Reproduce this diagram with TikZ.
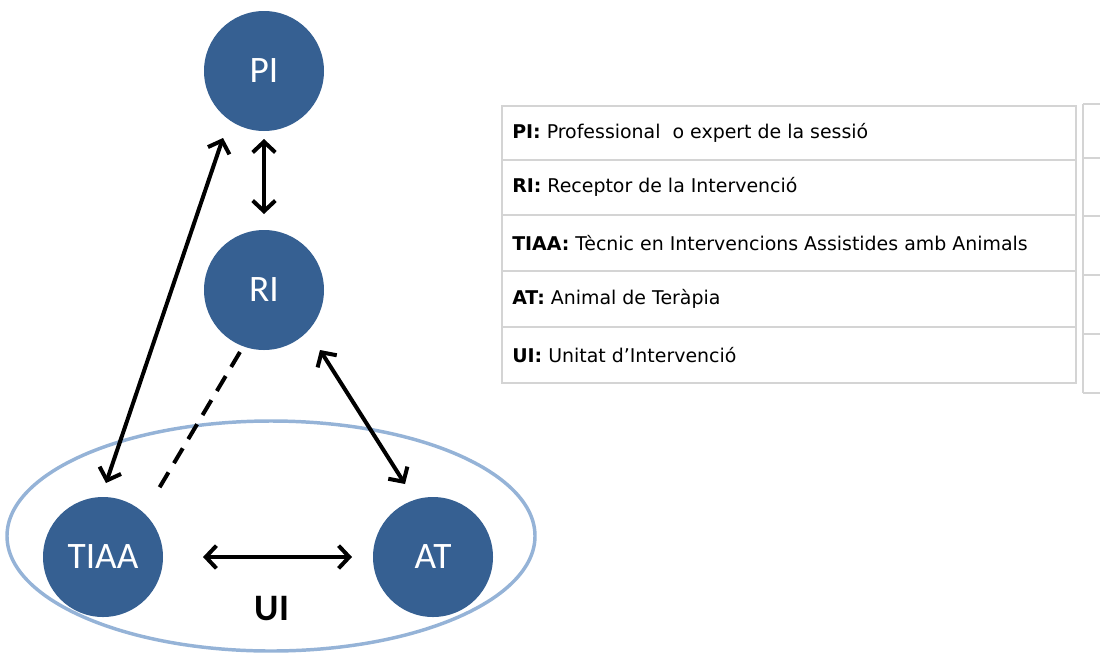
\documentclass[tikz,border=0pt]{standalone}
\usepackage{fontspec}
\setmainfont{Carlito}
\newfontfamily\tabfont{DejaVu Sans}
\usetikzlibrary{arrows.meta}
\definecolor{circblue}{RGB}{54,96,146}
\definecolor{ellblue}{RGB}{149,179,215}
\definecolor{gridgray}{RGB}{212,212,212}
\begin{document}
\begin{tikzpicture}[x=0.75pt,y=-0.75pt,
  agent/.style={circle,fill=circblue,minimum size=90pt,inner sep=0pt,text=white,font=\fontsize{28}{30}\selectfont},
  link/.style={line width=3pt,{Straight Barb[length=8pt,width=17pt,line width=3pt]}-{Straight Barb[length=8pt,width=17pt,line width=3pt]}},
  dashlink/.style={line width=3pt,dash pattern=on 13pt off 8pt},
  grid/.style={draw=gridgray,line width=0.8pt},
  entry/.style={anchor=west,inner sep=0pt,font=\tabfont\fontsize{14.2}{16}\selectfont}]
\useasboundingbox (0,0) rectangle (1102,654);
% ellipse
\draw[ellblue,line width=2.6pt] (271,536) ellipse [x radius=264, y radius=115];
% circles
\node[agent] (PI) at (264,71) {PI};
\node[agent] (RI) at (264,290) {RI};
\node[agent] (TIAA) at (103,557) {TIAA};
\node[agent] (AT) at (433,557) {AT};
\node[font=\bfseries\fontsize{28}{30}\selectfont] (UI) at (272,609) {UI};
% connector end points
\coordinate (a1) at (264,139);
\coordinate (a2) at (264,214);
\coordinate (b1) at (223,138);
\coordinate (b2) at (106,483);
\coordinate (c1) at (240,352);
\coordinate (c2) at (158,490);
\coordinate (d1) at (320,350);
\coordinate (d2) at (405,484);
\coordinate (e1) at (203,557);
\coordinate (e2) at (352,557);
\draw[link] (a1) -- (a2);
\draw[link] (b1) -- (b2);
\draw[dashlink] (c1) -- (c2);
\draw[link] (d1) -- (d2);
\draw[link] (e1) -- (e2);
% table
\draw[grid] (502,106) rectangle (1076,383);
\foreach \y in {160,215,271,327} \draw[grid] (502,\y) -- (1076,\y);
\draw[grid] (1083,104) -- (1083,393);
\foreach \y in {104,158,216,275,334,393} \draw[grid] (1083,\y) -- (1100,\y);
\node[entry] (t1) at (512,133) {\textbf{PI:} Professional\ \ o expert de la sessió};
\node[entry] (t2) at (512,187) {\textbf{RI:} Receptor de la Intervenció};
\node[entry] (t3) at (512,243) {\textbf{TIAA:} Tècnic en Intervencions Assistides amb Animals};
\node[entry] (t4) at (512,299) {\textbf{AT:} Animal de Teràpia};
\node[entry] (t5) at (512,355) {\textbf{UI:} Unitat d’Intervenció};
\end{tikzpicture}
\end{document}
